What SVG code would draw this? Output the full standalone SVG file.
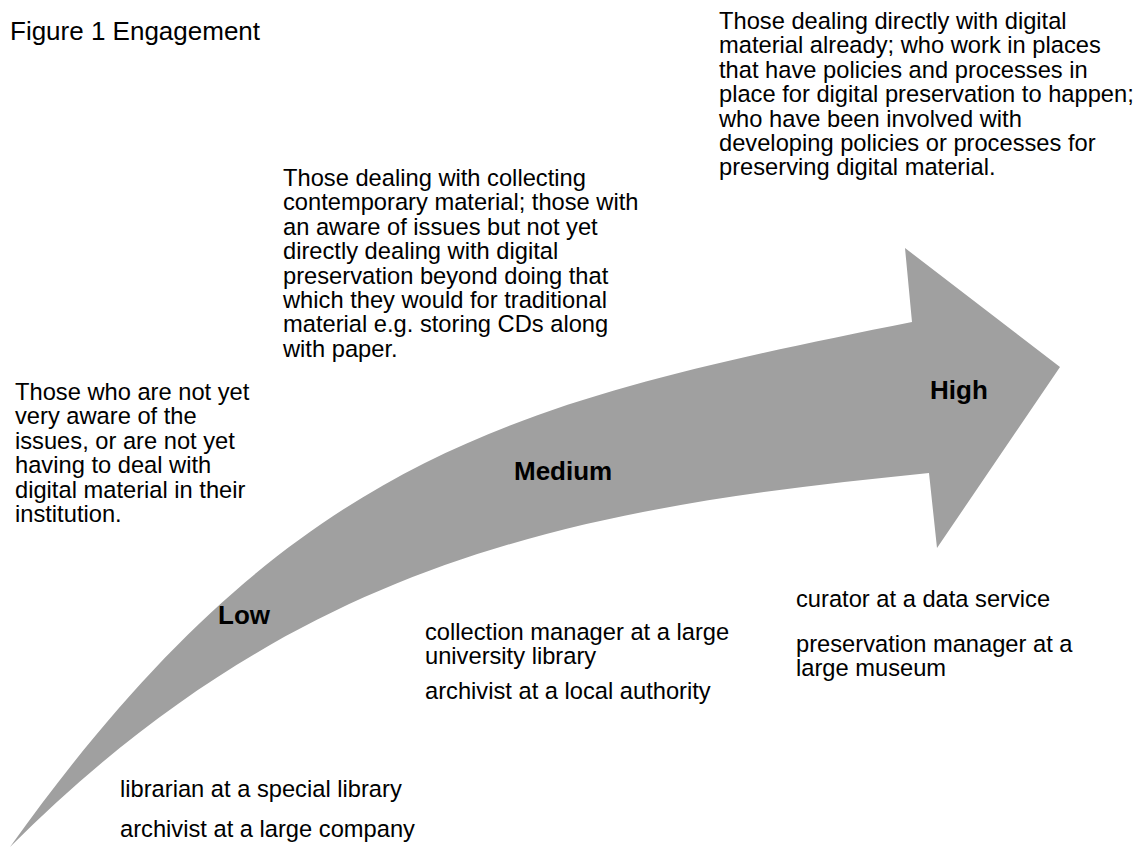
<svg xmlns="http://www.w3.org/2000/svg" width="1146" height="848" viewBox="0 0 1146 848">
<style>
text{font-family:"Liberation Sans",Arial,sans-serif;font-size:23.7px;fill:#000}
.title{font-size:26px}
.lbl{font-weight:bold;font-size:26px}
.arrow{fill:#a0a0a0;stroke:none}
</style>
<rect width="1146" height="848" fill="#fff"/>
<g id="arrow">
<path class="arrow" d="M10,847 C290,455 512,402 912,322 L905,248 L1060,367 L937,548 L929,473 C579,508 300,557 10,847 Z"/>
</g>
<g id="title"><text class="title" x="10" y="40">Figure 1 Engagement</text></g>
<g id="label-low"><text class="lbl" x="218" y="624">Low</text></g>
<g id="label-medium"><text class="lbl" x="514" y="480">Medium</text></g>
<g id="label-high"><text class="lbl" x="930" y="399">High</text></g>
<g id="desc-low">
<text x="15" y="400">Those who are not yet</text>
<text x="15" y="424.4">very aware of the</text>
<text x="15" y="448.8">issues, or are not yet</text>
<text x="15" y="473.2">having to deal with</text>
<text x="15" y="497.6">digital material in their</text>
<text x="15" y="522">institution.</text>
</g>
<g id="desc-medium">
<text x="283" y="186">Those dealing with collecting</text>
<text x="283" y="210.4">contemporary material; those with</text>
<text x="283" y="234.8">an aware of issues but not yet</text>
<text x="283" y="259.2">directly dealing with digital</text>
<text x="283" y="283.6">preservation beyond doing that</text>
<text x="283" y="308">which they would for traditional</text>
<text x="283" y="332.4">material e.g. storing CDs along</text>
<text x="283" y="356.8">with paper.</text>
</g>
<g id="desc-high">
<text x="719" y="29">Those dealing directly with digital</text>
<text x="719" y="53.4">material already; who work in places</text>
<text x="719" y="77.8">that have policies and processes in</text>
<text x="719" y="102.2">place for digital preservation to happen;</text>
<text x="719" y="126.6">who have been involved with</text>
<text x="719" y="151">developing policies or processes for</text>
<text x="719" y="175.4">preserving digital material.</text>
</g>
<g id="examples-low">
<text x="120" y="797">librarian at a special library</text>
<text x="120" y="837">archivist at a large company</text>
</g>
<g id="examples-medium">
<text x="425" y="640">collection manager at a large</text>
<text x="425" y="664.4">university library</text>
<text x="425" y="699">archivist at a local authority</text>
</g>
<g id="examples-high">
<text x="796" y="607">curator at a data service</text>
<text x="796" y="652">preservation manager at a</text>
<text x="796" y="676.4">large museum</text>
</g>
</svg>
